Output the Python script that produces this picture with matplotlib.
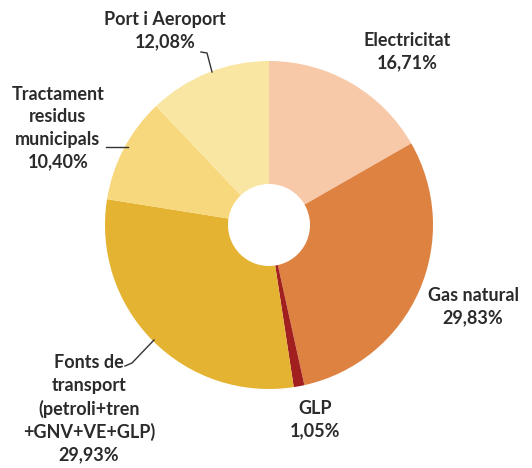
import matplotlib.pyplot as plt

labels = ['Electricitat', 'Gas natural', 'GLP',
          'Fonts de\ntransport\n(petroli+tren\n+GNV+VE+GLP)',
          'Tractament\nresidus\nmunicipals', 'Port i Aeroport']
values = [16.71, 29.83, 1.05, 29.93, 10.40, 12.08]
colors = ['#F8C9A9', '#DE8241', '#A11F1F', '#E4B332', '#F8D87C', '#F9E6A2']

W, H = 532, 468

def py(y):
    # pixel row (top down) -> data y
    return H - y

fig = plt.figure(figsize=(W / 100, H / 100), dpi=100)
ax = fig.add_axes([0, 0, 1, 1])

cx, cy, r, hole = 269, 225, 164, 41
ax.pie(values, colors=colors, startangle=90, counterclock=False,
       radius=r, center=(cx, py(cy)),
       wedgeprops=dict(width=r - hole, edgecolor='none'))

ax.set_xlim(0, W)
ax.set_ylim(0, H)
ax.set_aspect('auto')
ax.axis('off')

# label positions (x, centre y) in pixels
label_pos = [(407, 52), (473, 307), (315, 420), (89, 409), (58, 128), (165, 31)]
for lab, v, (x, y) in zip(labels, values, label_pos):
    txt = lab + '\n' + ('%.2f%%' % v).replace('.', ',')
    ax.text(x, py(y), txt, ha='center', va='center', fontsize=13,
            fontfamily='Lato', fontweight='bold', color='#2b2b2b',
            linespacing=1.38)

# leader lines
leaders = [
    [(201, 52), (207, 53), (212, 72)],
    [(106, 147), (128, 147)],
    [(125, 366), (132, 363), (154, 340)],
]
for pts in leaders:
    ax.plot([p[0] for p in pts], [py(p[1]) for p in pts], color='#333333', lw=1)

fig.savefig('out.png', dpi=100)
